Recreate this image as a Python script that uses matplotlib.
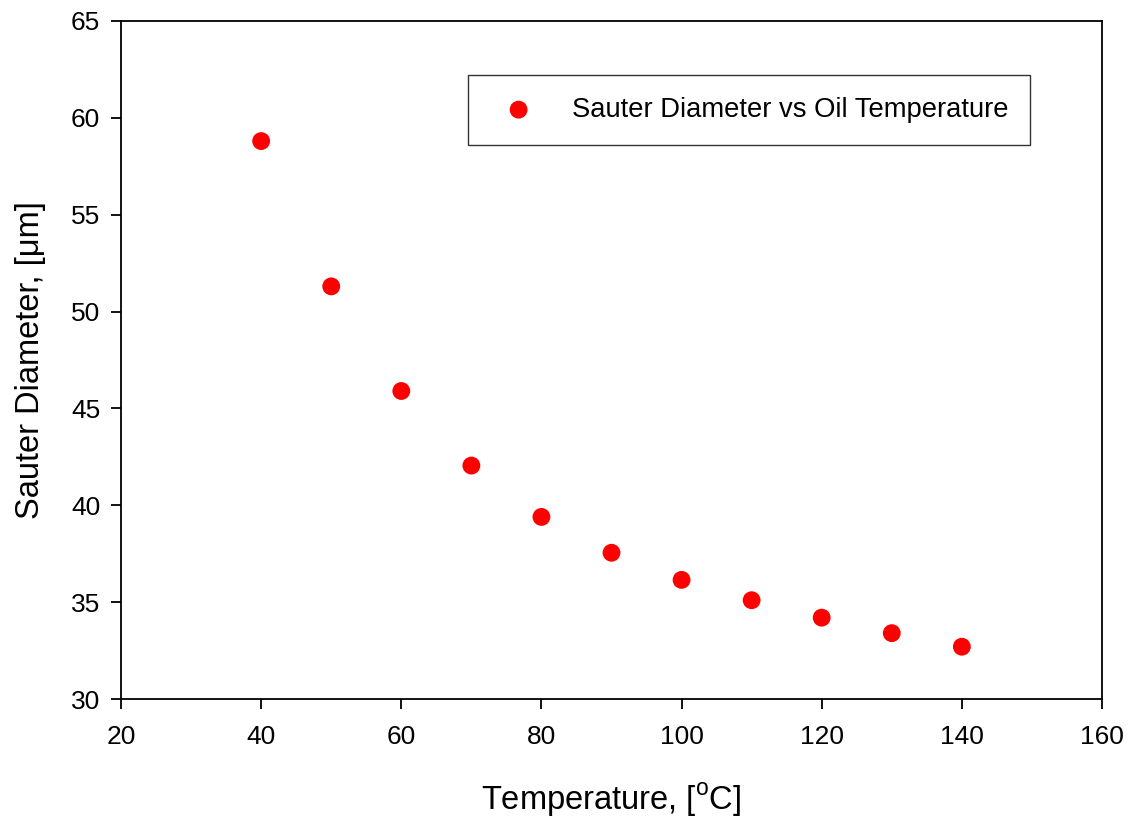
import matplotlib
matplotlib.use("Agg")
import matplotlib.pyplot as plt

plt.rcParams["font.family"] = ["Liberation Sans", "DejaVu Sans"]
plt.rcParams["mathtext.fontset"] = "custom"
plt.rcParams["mathtext.rm"] = "Liberation Sans"

temperature = [40, 50, 60, 70, 80, 90, 100, 110, 120, 130, 140]
sauter_diameter = [58.8, 51.3, 45.9, 42.05, 39.4, 37.55, 36.15, 35.1, 34.2, 33.4, 32.7]

x_ticks = [20, 40, 60, 80, 100, 120, 140, 160]
y_ticks = [30, 35, 40, 45, 50, 55, 60, 65]

fig = plt.figure(figsize=(11.3, 8.19), dpi=100)
ax = fig.add_axes([0.1071, 0.1465, 0.8681, 0.8279])

ax.scatter(temperature, sauter_diameter, s=165, color="#ff0000", edgecolors="none",
           label="Sauter Diameter vs Oil Temperature", zorder=3)

ax.set_xlim(20, 160)
ax.set_ylim(30, 65)
ax.set_xticks(x_ticks)
ax.set_yticks(y_ticks)
ax.tick_params(direction="out", length=7, width=1.3, labelsize=19,
               top=False, right=False)
ax.tick_params(axis="x", pad=12)
ax.tick_params(axis="y", pad=8)
for sp in ax.spines.values():
    sp.set_linewidth(1.3)

ax.set_xlabel(r"Temperature, [$^{\rm o}$C]", fontsize=23.5, labelpad=23)
ax.set_ylabel("Sauter Diameter, [\u03bcm]", fontsize=23.5, labelpad=18)

leg = ax.legend(loc="upper left", bbox_to_anchor=(0.3537, 0.9204), borderaxespad=0,
                fontsize=19.7, frameon=True, fancybox=False, edgecolor="black",
                borderpad=0.8, handlelength=2.1, handletextpad=0.9, scatterpoints=1)
leg.get_frame().set_linewidth(1.0)

fig.savefig("out.png", dpi=100)
